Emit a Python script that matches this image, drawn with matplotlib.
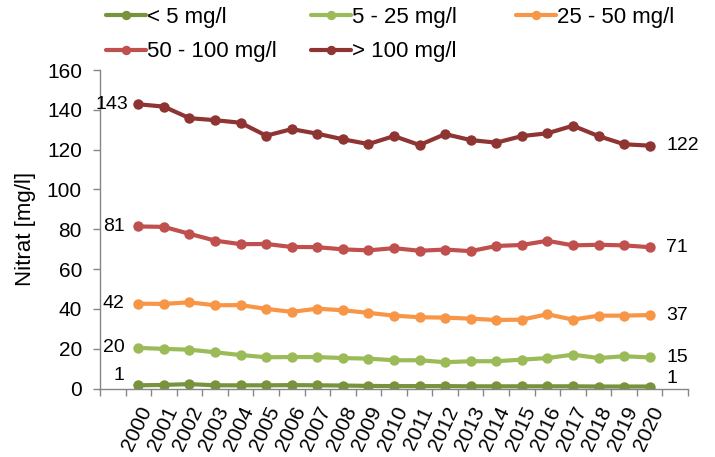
import numpy as np
import matplotlib
matplotlib.use("Agg")
import matplotlib.pyplot as plt

plt.rcParams['font.family'] = ['Liberation Sans', 'DejaVu Sans']

years = [str(y) for y in range(2000, 2021)]

# Nitrat values per class (mg/l)
lt5 = [1.6, 1.8, 2.2, 1.6, 1.6, 1.6, 1.7, 1.6, 1.5, 1.3, 1.2,
       1.2, 1.2, 1.1, 1.1, 1.1, 1.1, 1.1, 1.0, 1.0, 1.0]
r5_25 = [20.4, 19.9, 19.5, 18.2, 16.8, 15.7, 15.8, 15.8, 15.3, 15.0, 14.2,
         14.2, 13.2, 13.7, 13.7, 14.5, 15.3, 17.0, 15.3, 16.2, 15.6]
r25_50 = [42.6, 42.5, 43.3, 41.8, 41.9, 40.0, 38.5, 40.1, 39.3, 38.0, 36.6,
          35.8, 35.6, 35.1, 34.4, 34.6, 37.3, 34.6, 36.6, 36.6, 36.9]
r50_100 = [81.4, 81.2, 77.7, 74.3, 72.5, 72.6, 71.1, 71.0, 69.9, 69.4, 70.5,
           69.2, 69.8, 69.0, 71.6, 72.1, 74.2, 71.9, 72.2, 71.9, 71.0]
gt100 = [142.8, 141.6, 135.8, 134.8, 133.5, 127.0, 130.3, 128.0, 125.2, 122.8, 126.8,
         122.3, 127.8, 124.8, 123.5, 126.8, 128.2, 132.0, 126.8, 122.7, 122.0]

series = [lt5, r5_25, r25_50, r50_100, gt100]
names = ['< 5 mg/l', '5 - 25 mg/l', '25 - 50 mg/l', '50 - 100 mg/l', '> 100 mg/l']
colors = ['#77933C', '#9BBB59', '#F79646', '#C0504D', '#8E3432']
start_labels = ['1', '20', '42', '81', '143']
end_labels = ['1', '15', '37', '71', '122']
start_dx = [-10, -10, -10, -10, -7]
start_dy = [7, 0, 0, 0, 0]
end_dy = [6, 0, 0, 0, 0]

W, H = 715, 457
fig = plt.figure(figsize=(W / 100, H / 100), dpi=100)
ax = fig.add_axes([100 / W, 1 - 388.5 / H, 588 / W, 318.5 / H])

x = np.arange(len(years))
handles = []
for vals, name, col in zip(series, names, colors):
    h, = ax.plot(x, vals, color=col, lw=3, marker='o', ms=7.5,
                 markeredgewidth=0, label=name, solid_capstyle='round')
    handles.append(h)

for vals, sl, el, sdx, sdy, edy in zip(series, start_labels, end_labels,
                                       start_dx, start_dy, end_dy):
    ax.annotate(sl, (x[0], vals[0]), xytext=(sdx, sdy), textcoords='offset points',
                ha='right', va='center', fontsize=14, color='black')
    ax.annotate(el, (x[-1], vals[-1]), xytext=(12, edy), textcoords='offset points',
                ha='left', va='center', fontsize=14, color='black')

ax.set_xlim(-1.5, len(years) + 0.5)
ax.set_ylim(0, 160)
ax.set_yticks(np.arange(0, 161, 20))
ax.set_xticks(x)
ax.set_xticklabels(years, rotation=65, ha='right', rotation_mode='anchor')
ax.set_xticks(np.arange(-1.5, len(years) + 1, 1), minor=True)
ax.tick_params(axis='x', which='major', length=0, pad=11, labelsize=15)
ax.tick_params(axis='x', which='minor', length=5, color='#868686', width=1)
ax.tick_params(axis='y', length=5, color='#868686', width=1, pad=8, labelsize=15)

for s in ['top', 'right']:
    ax.spines[s].set_visible(False)
for s in ['left', 'bottom']:
    ax.spines[s].set_color('#868686')
    ax.spines[s].set_linewidth(1)

ax.set_ylabel('Nitrat [mg/l]', fontsize=16)
ax.yaxis.set_label_coords(-64 / 588, 0.5)

# legend laid out row-wise like the original, one column per legend
legend_cols = [[0, 3], [1, 4], [2]]
col_x = [106, 311, 516]
for idx, cx in zip(legend_cols, col_x):
    fig.legend(handles=[handles[i] for i in idx], loc='upper left',
               bbox_to_anchor=(cx / W, 1 - 7 / H), frameon=False, fontsize=16,
               handlelength=1.8, handletextpad=0.05, labelspacing=0.6,
               borderpad=0, borderaxespad=0, markerscale=0.9)

fig.savefig('out.png', dpi=100)
